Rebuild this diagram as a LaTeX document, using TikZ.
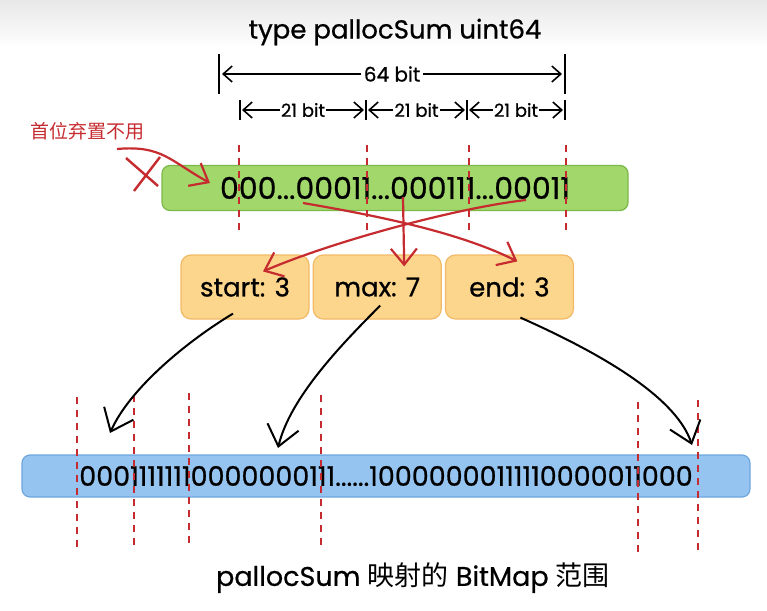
\documentclass[tikz,border=0pt]{standalone}
\usepackage{fontspec}
\setmainfont{Poppins}[FakeBold=0.7]
\newfontfamily\cjk{Noto Sans CJK SC}
\usetikzlibrary{arrows.meta, positioning, calc}
\definecolor{psGreen}{HTML}{A2D76B}
\definecolor{psGreenLine}{HTML}{7BB84A}
\definecolor{psOrange}{HTML}{FCD68C}
\definecolor{psOrangeLine}{HTML}{F2BA66}
\definecolor{psBlue}{HTML}{95C4F0}
\definecolor{psBlueLine}{HTML}{6EA6DE}
\definecolor{psRed}{HTML}{C62B30}

\begin{document}
\begin{tikzpicture}[
  x=1pt, y=-1pt, font=\fontsize{20}{20}\selectfont,
  bar/.style={rounded corners=8pt, line width=1.2pt, inner sep=0pt},
  fld/.style={draw=psOrangeLine, fill=psOrange, rounded corners=10pt, line width=1.2pt,
              minimum width=128pt, minimum height=64pt, inner sep=0pt, font=\fontsize{26}{26}\selectfont},
  cut/.style={draw=psRed, dash pattern=on 7pt off 6pt, line width=1.6pt},
  dim/.style={{Straight Barb[length=9pt,width=16pt]}-{Straight Barb[length=9pt,width=16pt]}, line width=1.6pt},
  tick/.style={line width=1.9pt},
  redarr/.style={-{Straight Barb[length=16pt,width=26pt]}, draw=psRed, line width=2.2pt},
  blkarr/.style={-{Straight Barb[length=20pt,width=32pt]}, line width=2pt},
]
\useasboundingbox (0,0) rectangle (767,610);
\fill[top color=black!9, bottom color=white] (0,0) rectangle (767,48);

% title and bit widths
\node (title) at (395,32) {\fontsize{26}{26}\selectfont type pallocSum uint64};

\coordinate (w0) at (219,74);
\coordinate (w1) at (565,74);
\draw[tick] ($(w0)+(0,-20)$) -- ($(w0)+(0,20)$);
\draw[tick] ($(w1)+(0,-20)$) -- ($(w1)+(0,20)$);
\draw[dim] ($(w0)+(3,0)$) -- node[fill=white, inner sep=3pt]{64 bit} ($(w1)+(-3,0)$);

\foreach \n/\x in {0/240, 1/366, 2/467, 3/565}{
  \coordinate (s\n) at (\x,110);
  \draw[tick] ($(s\n)+(0,-10)$) -- ($(s\n)+(0,10)$);
}
\foreach \a/\b in {0/1, 1/2, 2/3}{
  \draw[dim, line width=1.6pt] ($(s\a)+(2,0)$) -- node[fill=white, inner sep=1pt, font=\fontsize{18}{18}\selectfont]{21 bit} ($(s\b)+(-2,0)$);
}

% pallocSum
\node[bar, draw=psGreenLine, fill=psGreen, minimum width=466pt, minimum height=45pt,
      font=\fontsize{30}{30}\selectfont] (sum) at (395,188) {000...00011...000111...00011};
\foreach \x in {239, 367, 469, 566}{
  \draw[cut] (\x,145) -- (\x,232);
}

% first bit unused
\node[text=psRed, font=\cjk\fontsize{19}{19}\selectfont] (unused) at (87,131) {首位弃置不用};
\coordinate (u0) at (117,149);
\coordinate (u1) at (210,183);
\draw[redarr] (u0) .. controls +(45,-4) and +(-40,-22) .. (u1);
\coordinate (x0) at (143,173);
\draw[psRed, line width=2.4pt] ($(x0)+(-17,-15)$) -- ($(x0)+(15,13)$);
\draw[psRed, line width=2.4pt] ($(x0)+(-9,18)$) -- ($(x0)+(17,-16)$);

% summary fields
\node[fld] (start) at (245,287) {start: 3};
\node[fld, right=3pt of start] (max) {max: 7};
\node[fld, right=3pt of max] (end) {end: 3};

\coordinate (r1) at (303,203);
\coordinate (r2) at (526,200);
\coordinate (r3) at (403,197);
\draw[redarr] (r1) .. controls +(70,12) and +(-60,-30) .. ($(end.north)+(8,7)$);
\draw[redarr] (r2) .. controls +(-70,8) and +(70,-30) .. ($(start.north)+(18,17)$);
\draw[redarr] (r3) -- ($(max.north)+(27,12)$);

% bitmap
\node[bar, draw=psBlueLine, fill=psBlue, minimum width=728pt, minimum height=42pt,
      font=\fontsize{27}{27}\selectfont] (bitmap) at (386,476) {00011111110000000111......10000000111110000011000};
\foreach \x/\t/\b in {77/397/550, 134/395/547, 189/393/546, 321/395/548, 638/402/552, 698/400/550}{
  \draw[cut] (\x,\t) -- (\x,\b);
}

\coordinate (t1) at (110,433);
\coordinate (t2) at (278,448);
\coordinate (t3) at (692,445);
\draw[blkarr] ($(start.south)+(-12,-6)$) .. controls +(-45,27) and +(20,-45) .. (t1);
\draw[blkarr] ($(max.south)+(3,-14)$) .. controls +(-40,40) and +(12,-50) .. (t2);
\draw[blkarr] ($(end.south)+(11,-2)$) .. controls +(90,40) and +(-15,-45) .. (t3);

\node (caption) at (413,578) {\fontsize{27}{27}\selectfont pallocSum {\cjk 映射的} BitMap {\cjk 范围}};
\end{tikzpicture}
\end{document}
